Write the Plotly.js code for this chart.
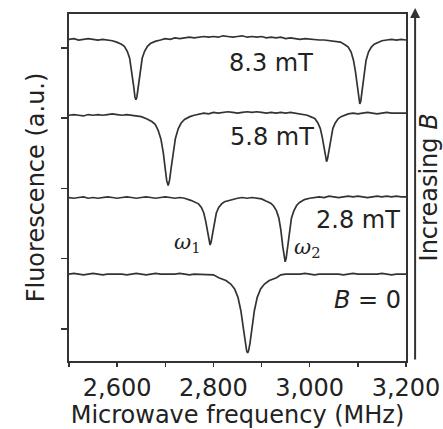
<!DOCTYPE html>
<html>
<head>
<meta charset="utf-8">
<script src="https://cdn.plot.ly/plotly-3.0.1.min.js"></script>
<style>html,body{margin:0;padding:0;background:#fff;}#chart{width:443px;height:429px;}</style>
</head>
<body>
<div id="chart"></div>
<script>
// ---- data ----
var fieldLabels = ["8.3 mT", "5.8 mT", "2.8 mT", "<i>B</i> = 0"];

var freq83 = [2500,2510,2520,2530,2540,2550,2560,2570,2580,2590,
  2599,2609,2615,2621,2626,2630,2634,2637,2639,2641,2644,2648,2652,2657,2663,2669,2679,
  2690,2700,2710,2720,2730,2740,2750,2760,2770,2780,2790,2800,2810,2820,2830,2840,2850,2860,2870,2880,
  2890,2900,2910,2920,2930,2940,2950,2960,2970,2980,2990,3000,3010,3020,3030,3040,3050,
  3064,3074,3080,3086,3091,3095,3099,3102,3104,3106,3109,3113,3117,3122,3128,3134,3144,
  3150,3160,3170,3180,3190,3200];
var sig83 = [4.12,4.13,4.11,4.12,4.13,4.12,4.11,4.12,4.11,4.10,
  4.08,4.05,4.02,3.95,3.85,3.69,3.47,3.30,3.26,3.30,3.47,3.69,3.85,3.95,4.02,4.06,4.09,
  4.11,4.13,4.12,4.14,4.13,4.14,4.15,4.14,4.15,4.16,4.15,4.16,4.15,4.17,4.16,4.15,4.16,4.17,4.15,4.16,
  4.15,4.16,4.14,4.15,4.14,4.15,4.13,4.14,4.13,4.12,4.13,4.12,4.12,4.11,4.11,4.10,4.09,
  4.08,4.04,4.01,3.94,3.82,3.66,3.42,3.24,3.20,3.24,3.42,3.66,3.82,3.94,4.01,4.05,4.08,
  4.10,4.11,4.12,4.11,4.12,4.11];

var freq58 = [2500,2510,2520,2530,2540,2550,2560,2570,2580,2590,2600,2610,2620,2630,2640,2650,
  2661,2672,2679,2685,2691,2696,2700,2703,2706,2709,2712,2716,2721,2727,2733,2740,2751,
  2760,2770,2780,2790,2800,2810,2820,2830,2840,2850,2860,2870,2880,2890,2900,2910,2920,2930,2940,2950,2960,2970,2980,
  2995,3005,3011,3017,3022,3026,3030,3033,3035,3037,3040,3044,3048,3053,3059,3065,3075,
  3080,3090,3100,3110,3120,3130,3140,3150,3160,3170,3180,3190,3200];
var sig58 = [3.04,3.05,3.04,3.03,3.05,3.04,3.05,3.04,3.05,3.06,3.05,3.04,3.05,3.04,3.03,3.02,
  2.99,2.95,2.91,2.83,2.70,2.50,2.27,2.11,2.04,2.12,2.28,2.51,2.71,2.85,2.93,2.98,3.02,
  3.04,3.06,3.07,3.06,3.08,3.07,3.08,3.09,3.08,3.07,3.08,3.09,3.08,3.09,3.08,3.07,3.08,3.07,3.08,3.07,3.08,3.07,3.06,
  3.04,3.01,2.99,2.93,2.85,2.73,2.55,2.42,2.38,2.42,2.55,2.73,2.85,2.93,2.99,3.02,3.05,
  3.06,3.07,3.06,3.07,3.08,3.07,3.06,3.07,3.08,3.07,3.07,3.06,3.07];

var freq28 = [2500,2510,2520,2530,2540,2550,2560,2570,2580,2590,2600,2610,2620,2630,2640,2650,2660,2670,2680,2690,2700,2710,2720,2730,2740,
  2753,2763,2769,2775,2780,2784,2788,2791,2793,2795,2798,2802,2806,2811,2817,2823,2833,
  2840,2850,2860,2870,2880,2890,2900,
  2909,2919,2925,2931,2936,2940,2944,2947,2949,2951,2954,2958,2962,2967,2973,2979,2989,
  3000,3010,3020,3030,3040,3050,3060,3070,3080,3090,3100,3110,3120,3130,3140,3150,3160,3170,3180,3190,3200];
var sig28 = [1.87,1.86,1.87,1.88,1.86,1.87,1.86,1.87,1.88,1.87,1.86,1.87,1.88,1.87,1.86,1.87,1.88,1.87,1.86,1.87,1.88,1.87,1.86,1.87,1.86,
  1.83,1.80,1.78,1.73,1.65,1.53,1.36,1.23,1.195,1.23,1.36,1.53,1.65,1.73,1.78,1.81,1.83,
  1.85,1.86,1.87,1.86,1.87,1.86,1.85,
  1.82,1.79,1.75,1.68,1.575,1.41,1.175,1.00,0.955,1.00,1.175,1.41,1.575,1.68,1.76,1.80,1.84,
  1.86,1.87,1.88,1.87,1.89,1.88,1.87,1.88,1.89,1.88,1.89,1.88,1.87,1.88,1.89,1.88,1.89,1.88,1.89,1.88,1.88];

var freq0 = [2500,2510,2520,2530,2540,2550,2560,2570,2580,2590,2600,2610,2620,2630,2640,2650,2660,2670,2680,2690,2700,2710,2720,2730,2740,2750,2760,2770,2780,2790,2800,
  2811,2826,2836,2844,2851,2857,2862,2866,2869,2871,2873,2876,2880,2885,2891,2898,2906,2916,2931,
  2940,2950,2960,2970,2980,2990,3000,3010,3020,3030,3040,3050,3060,3070,3080,3090,3100,3110,3120,3130,3140,3150,3160,3170,3180,3190,3200];
var sig0 = [0.78,0.79,0.78,0.77,0.78,0.79,0.78,0.77,0.78,0.78,0.79,0.78,0.77,0.78,0.79,0.78,0.77,0.78,0.79,0.78,0.78,0.77,0.78,0.79,0.78,0.77,0.78,0.78,0.77,0.78,0.77,
  0.73,0.69,0.64,0.57,0.45,0.26,0.02,-0.20,-0.31,-0.34,-0.31,-0.20,0.02,0.26,0.45,0.57,0.64,0.69,0.73,
  0.77,0.78,0.78,0.77,0.78,0.79,0.78,0.77,0.78,0.78,0.79,0.78,0.78,0.77,0.78,0.79,0.78,0.78,0.77,0.78,0.78,0.79,0.78,0.77,0.78,0.78,0.78];

// label positions (data coords)
var labelX = [2920, 2922, 3101, 3120];
var labelY = [3.79, 2.735, 1.55, 0.41];
var omegaLabels = ["<i>ω</i><sub>1</sub>", "<i>ω</i><sub>2</sub>"];
var omegaX = [2745, 2994];
var omegaY = [1.22, 1.15];

var xTickVals = [2600, 2800, 3000, 3200];
var xTickText = ["2,600", "2,800", "3,000", "3,200"];
var xMinorTickVals = [2500, 2700, 2900, 3100];
var yTickVals = [0, 1, 2, 3, 4];

// ---- chart ----
var lineColor = "#333333";
var fontFam = "DejaVu Sans, Liberation Sans, sans-serif";
var series = [[freq83, sig83], [freq58, sig58], [freq28, sig28], [freq0, sig0]];
var traces = series.map(function (s) {
  return {x: s[0], y: s[1], type: "scatter", mode: "lines",
          line: {color: lineColor, width: 1.7}, hoverinfo: "skip", showlegend: false};
});

var ann = [];
for (var i = 0; i < fieldLabels.length; i++) {
  ann.push({x: labelX[i], y: labelY[i], xref: "x", yref: "y", text: fieldLabels[i],
            showarrow: false, font: {family: fontFam, size: 24, color: "#222"}});
}
for (var j = 0; j < omegaLabels.length; j++) {
  ann.push({x: omegaX[j], y: omegaY[j], xref: "x", yref: "y", text: omegaLabels[j],
            showarrow: false, font: {family: "DejaVu Serif, serif", size: 21, color: "#222"}});
}
ann.push({x: 1.027, y: 1.017, xref: "paper", yref: "paper", text: "", showarrow: true,
          ax: 0, ay: 353, arrowhead: 2, arrowsize: 1, arrowwidth: 2, arrowcolor: "#333"});
ann.push({x: 1.068, y: 0.5, xref: "paper", yref: "paper", text: "Increasing <i>B</i>",
          textangle: -90, showarrow: false, xanchor: "center", yanchor: "middle",
          font: {family: fontFam, size: 24, color: "#222"}});

var layout = {
  width: 443, height: 429,
  margin: {l: 69, r: 37, t: 14, b: 68},
  paper_bgcolor: "#fff", plot_bgcolor: "#fff",
  font: {family: fontFam, size: 24, color: "#222"},
  xaxis: {range: [2500, 3200], tickmode: "array", tickvals: xTickVals, ticktext: xTickText,
          ticks: "outside", ticklen: 4, tickwidth: 1.5, tickcolor: "#333",
          minor: {tickmode: "array", tickvals: xMinorTickVals, ticks: "outside",
                  ticklen: 4, tickwidth: 1.5, tickcolor: "#333", showgrid: false},
          showline: true, linecolor: "#333", linewidth: 1.8, mirror: true,
          showgrid: false, zeroline: false, tickfont: {size: 24},
          title: {text: "Microwave frequency (MHz)", font: {size: 24}, standoff: 2}},
  yaxis: {range: [-0.455, 4.48], tickmode: "array", tickvals: yTickVals, showticklabels: false,
          ticks: "outside", ticklen: 6, tickwidth: 1.5, tickcolor: "#333",
          showline: true, linecolor: "#333", linewidth: 1.8, mirror: true,
          showgrid: false, zeroline: false,
          title: {text: "Fluorescence (a.u.)", font: {size: 24}, standoff: 10}},
  annotations: ann
};
Plotly.newPlot("chart", traces, layout, {displayModeBar: false, staticPlot: true});
</script>
</body>
</html>
